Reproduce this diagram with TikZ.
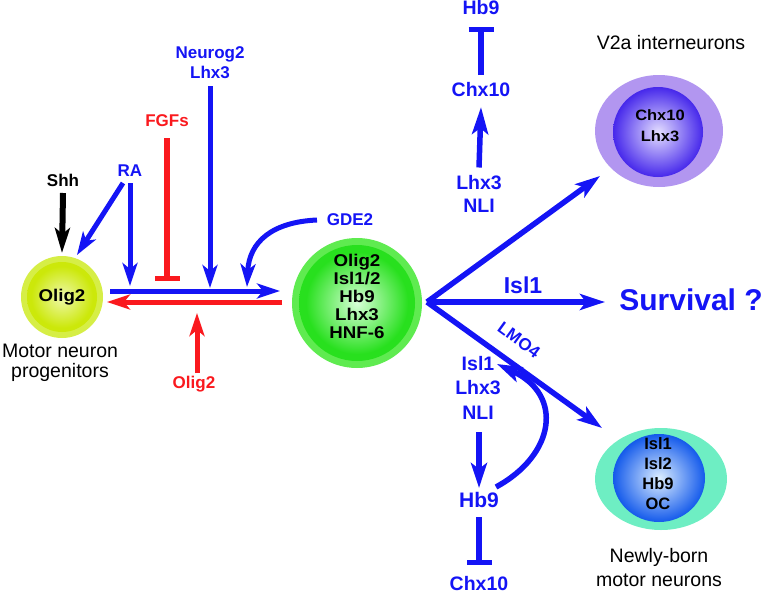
\documentclass[tikz,border=0pt]{standalone}
\usepackage{fontspec}
\setmainfont{Liberation Sans}
\newfontfamily\widesans[FakeStretch=1.1]{Liberation Sans}
\usetikzlibrary{arrows.meta,calc,shapes.geometric}
\definecolor{cblue}{RGB}{20,20,245}
\definecolor{cred}{RGB}{250,25,30}
\definecolor{progring}{RGB}{214,238,70}
\definecolor{progin}{RGB}{204,232,10}
\definecolor{progc}{RGB}{238,248,170}
\definecolor{mnring}{RGB}{95,235,80}
\definecolor{mnin}{RGB}{40,224,30}
\definecolor{mnc}{RGB}{215,255,215}
\definecolor{vring}{RGB}{178,150,240}
\definecolor{vin}{RGB}{70,40,235}
\definecolor{vc}{RGB}{228,222,255}
\definecolor{nring}{RGB}{110,238,195}
\definecolor{nin}{RGB}{20,90,235}
\definecolor{nc}{RGB}{220,238,255}
\pgfdeclareradialshading{progball}{\pgfpoint{0bp}{0bp}}{color(0bp)=(progc); color(22bp)=(progin); color(50bp)=(progin)}
\pgfdeclareradialshading{mnball}{\pgfpoint{0bp}{0bp}}{color(0bp)=(mnc); color(22bp)=(mnin); color(50bp)=(mnin)}
\pgfdeclareradialshading{vball}{\pgfpoint{0bp}{0bp}}{color(0bp)=(vc); color(25bp)=(vin); color(50bp)=(vin)}
\pgfdeclareradialshading{nball}{\pgfpoint{0bp}{0bp}}{color(0bp)=(nc); color(25bp)=(nin); color(50bp)=(nin)}
\begin{document}
\begin{tikzpicture}[x=1pt,y=-1pt,
  lbl/.style={font=\bfseries\fontsize{17}{20}\selectfont, text=cblue, inner sep=0pt, align=center},
  rlbl/.style={lbl, text=cred},
  klbl/.style={lbl, text=black},
  chain/.style={font=\bfseries\fontsize{19.5}{23}\selectfont, text=cblue, inner sep=0pt, align=center},
  plainA/.style={font=\fontsize{19.5}{20}\selectfont, inner sep=0pt, align=center},
  plainB/.style={font=\fontsize{19.5}{24}\selectfont, inner sep=0pt, align=center},
  ctext/.style={font=\widesans\bfseries\fontsize{17}{18.2}\selectfont, inner sep=0pt, align=center},
  ring/.style={inner sep=0pt, draw=none},
  ball/.style={inner sep=0pt, draw=none, shade},
  arr/.style={line width=5pt, -{Stealth[length=23pt,width=15pt,inset=6pt]}},
  bigarr/.style={line width=5.5pt, -{Stealth[length=25pt,width=16pt,inset=6pt]}},
  tee/.style={line width=5.5pt, -{Bar[width=25pt]}}
]
\useasboundingbox (0,0) rectangle (767,594);

% cells
\node[ring, circle, fill=progring, minimum size=82pt] (prog) at (62,297) {};
\node[ball, circle, shading=progball, minimum size=70pt] (progin) at (62,297) {};
\node[ctext] (progtx) at (62,297) {Olig2};
\node[plainA] (mnp) at (60,362.5) {Motor neuron\\progenitors};

\node[ring, circle, fill=mnring, minimum size=130pt] (mn) at (357,303) {};
\node[ball, circle, shading=mnball, minimum size=116pt] (mnin) at (357,303) {};
\node[ctext] (mntx) at (357,296.5) {Olig2\\Isl1/2\\Hb9\\Lhx3\\HNF-6};

\node[ring, ellipse, fill=vring, minimum width=128pt, minimum height=112pt] (v2a) at (659,131) {};
\node[ball, circle, shading=vball, minimum size=90pt] (v2ain) at (658,132) {};
\node[ctext, font=\widesans\bfseries\fontsize{15}{21}\selectfont] (v2atx) at (660,125.5) {Chx10\\Lhx3};
\node[plainA] (v2alb) at (671,43) {V2a interneurons};

\node[ring, ellipse, fill=nring, minimum width=132pt, minimum height=102pt] (nb) at (661,479) {};
\node[ball, ellipse, shading=nball, minimum width=92pt, minimum height=88pt] (nbin) at (659,478) {};
\node[ctext, font=\bfseries\fontsize{16.5}{20.2}\selectfont] (nbtx) at (658,473.5) {Isl1\\Isl2\\Hb9\\OC};
\node[plainB] (nblb) at (659,568) {Newly-born\\motor neurons};

% labels left
\node[klbl] (shh) at (63,180) {Shh};
\node[lbl] (ra) at (130,171) {RA};
\node[rlbl] (fgf) at (167,121) {FGFs};
\node[lbl] (neur) at (210,63) {Neurog2\\Lhx3};
\node[lbl] (gde) at (350,220) {GDE2};
\node[rlbl] (olr) at (194,384) {Olig2};

% labels right
\node[chain] (hb9t) at (481,8) {Hb9};
\node[chain] (chx10t) at (481,90) {Chx10};
\node[chain] (lhxnli) at (479,193.5) {Lhx3\\NLI};
\node[chain, font=\bfseries\fontsize{19.5}{24.5}\selectfont] (isllhx) at (478,387.5) {Isl1\\Lhx3\\NLI};
\node[chain, font=\bfseries\fontsize{21}{24}\selectfont] (hb9b) at (479,500) {Hb9};
\node[chain] (chx10b) at (479,584) {Chx10};
\node[lbl, font=\bfseries\fontsize{23}{26}\selectfont] (isl1) at (523,285) {Isl1};
\node[lbl, font=\bfseries\fontsize{30}{34}\selectfont] (surv) at (691,300) {Survival ?};
\node[lbl, rotate=-36] (lmo) at (519,340) {LMO4};

% coordinates
\coordinate (bS) at ($(prog)+(48,-6)$);
\coordinate (bE) at ($(mn)+(-77,-12)$);
\coordinate (br) at ($(mn)+(70,-1)$);

% left connectors
\draw[arr, black, line width=6pt, -{Stealth[length=25pt,width=15pt,inset=6pt]}] ($(shh)+(0,13)$) -- ($(prog)+(0,-44)$);
\draw[arr, cblue] ($(ra)+(-7,12)$) -- ($(prog)+(15,-42)$);
\draw[arr, cblue] ($(ra)+(0,12)$) -- ($(ra |- bS)+(0,-5)$);
\draw[tee, cred] ($(fgf)+(0,17)$) -- ($(fgf |- bS)+(0,-10)$);
\draw[arr, cblue] ($(neur)+(0,23)$) -- ($(neur |- bS)+(0,-3)$);
\draw[arr, cblue] ($(gde)+(-33,0)$) .. controls +(-45,2) and +(2,-45) .. ($(gde |- bS)+(-103,-4)$);
\draw[arr, cblue] (bS) -- (bE);
\draw[arr, cred] ($(mn)+(-75,-1)$) -- ($(prog)+(45,5)$);
\draw[arr, cred] ($(olr)+(3,-11)$) -- ($(olr)+(3,-71)$);

% branches
\draw[bigarr, cblue] (br) -- ($(v2a)+(-59,45)$);
\draw[bigarr, cblue] (br) -- ($(surv)+(-86,2)$);
\draw[bigarr, cblue] (br) -- ($(nb)+(-59,-51)$);

% chains
\draw[bigarr, cblue, -{Stealth[length=27pt,width=16pt,inset=6pt]}] ($(lhxnli)+(0,-26)$) -- ($(chx10t)+(0,17)$);
\draw[tee, cblue] ($(chx10t)+(0,-15)$) -- ($(hb9t)+(0,19)$);
\draw[bigarr, cblue] ($(isllhx)+(1,44.5)$) -- ($(hb9b)+(0,-12)$);
\draw[tee, cblue] ($(hb9b)+(0,17)$) -- ($(chx10b)+(0,-19)$);
\draw[bigarr, cblue] ($(hb9b)+(17,-13)$) .. controls ($(hb9b)+(76,-45)$) and ($(isllhx)+(86,7.5)$) .. ($(isllhx)+(19,-23.5)$);
\end{tikzpicture}
\end{document}
